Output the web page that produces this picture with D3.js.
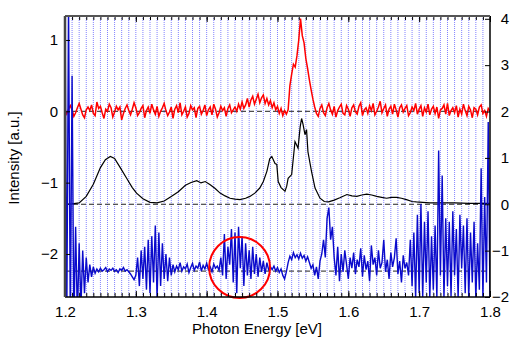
<!DOCTYPE html>
<html>
<head>
<meta charset="utf-8">
<script src="https://cdn.jsdelivr.net/npm/d3@7"></script>
<style>
  body { margin: 0; background: #fff; }
  svg { display: block; font-family: "Liberation Sans", Arial, sans-serif; }
</style>
</head>
<body>
<svg id="chart" width="510" height="338"></svg>
<script>
// energy grid step for the measured (noisy) traces
const step = 0.0025;

// red trace, left axis (offset 0)
const redValues = [
  0.01, -0.04, 0.03, 0.08, 0.02, -0.07, -0.02, 0.05, 0.11, 0.03,
  -0.05, -0.09, 0.02, 0.06, 0.01, 0.09, -0.03, -0.06, 0.13, 0.04,
  0.07, -0.02, -0.10, 0.03, 0.00, 0.10, 0.05, -0.08, -0.01, 0.07,
  0.02, 0.06, -0.12, -0.03, 0.04, 0.09, 0.01, -0.05, 0.03, 0.12,
  0.05, -0.06, -0.02, 0.04, 0.08, -0.09, 0.01, 0.06, -0.03, 0.10,
  0.02, -0.04, 0.07, -0.07, 0.00, 0.05, 0.11, 0.01, -0.06, -0.01,
  0.06, -0.10, 0.03, 0.08, -0.02, 0.12, -0.05, 0.00, 0.06, -0.08,
  -0.03, 0.08, 0.02, 0.05, -0.09, 0.04, 0.07, -0.04, 0.01, 0.09,
  -0.06, 0.02, 0.06, -0.05, 0.10, 0.03, -0.08, -0.02, 0.07, 0.01,
  0.05, -0.07, 0.04, 0.09, -0.02, 0.02,
  // bump 1.44 - 1.5125
  0.06, 0.00, 0.10, 0.03, 0.13, 0.04, 0.09, 0.18, 0.06, 0.16,
  0.21, 0.10, 0.17, 0.24, 0.12, 0.19, 0.23, 0.11, 0.18, 0.09,
  0.15, 0.05, 0.12, 0.02, 0.07, -0.03, 0.04, -0.06, 0.01, -0.04,
  // main peak 1.515 - 1.555
  0.02, 0.36, 0.52, 0.66, 0.62, 0.78, 1.00, 1.30, 1.06, 0.96,
  0.74, 0.60, 0.44, 0.30, 0.17, 0.06, -0.03,
  -0.07, 0.04, 0.09, -0.02, -0.06, 0.05, 0.11, 0.02, -0.04, 0.07,
  -0.08, 0.01, 0.06, 0.10, -0.03, -0.05, 0.08, 0.03, -0.07, 0.05,
  0.09, -0.01, -0.04, 0.07, 0.12, -0.06, 0.02, 0.05, -0.03, 0.08,
  0.01, 0.11, -0.05, 0.00, 0.06, 0.14, -0.02, 0.04, 0.09, -0.07,
  0.03, 0.07, -0.04, 0.10, 0.02, -0.08, 0.05, 0.09, -0.01, 0.04,
  0.08, -0.06, -0.02, 0.06, 0.01, 0.11, -0.04, 0.03, 0.08, -0.07,
  0.05, -0.01, 0.10, -0.05, 0.03, 0.07, -0.03, 0.06, -0.10, 0.02,
  0.04, 0.09, -0.04, 0.11, -0.06, 0.01, 0.05, -0.02, 0.08, -0.08,
  0.03, -0.04, 0.10, 0.01, -0.06, 0.07, 0.02, -0.09, 0.05, 0.03,
  -0.05, 0.06, 0.09, -0.03, 0.01, -0.07, 0.04, 0.00
];

// blue trace, left axis
const blueValues = [
  1.5, -3.0, 1.5, -3.0, 0.5, -3.0, -1.62, -2.9, -1.85, -2.75,
  -1.95, -2.55, -2.05, -2.40, -2.15, -2.32, -2.18, -2.27,
  -2.21, -2.25, -2.20, -2.24, -2.22, -2.19, -2.25, -2.21, -2.23, -2.20,
  -2.24, -2.22, -2.26, -2.21, -2.23, -2.19, -2.24, -2.22, -2.25, -2.28,
  -2.32, -2.36, -2.30,
  -2.05, -2.45, -1.95, -2.35, -1.90, -2.50, -1.80, -2.55, -1.75, -2.40,
  -1.60, -2.62, -1.70, -2.45, -1.85, -2.35, -2.00, -2.38, -2.05, -2.30,
  -2.15, -2.25, -2.17, -2.22, -2.12, -2.24, -2.18, -2.21, -2.14, -2.26,
  -2.19, -2.13, -2.23, -2.17, -2.20, -2.11, -2.24, -2.16, -2.21, -2.13,
  -2.22, -2.18, -2.25, -2.14, -2.20, -2.17, -2.23,
  -2.05, -2.30, -1.72, -2.35, -1.90, -2.15, -1.65, -2.40, -1.70, -2.55,
  -1.62, -2.20, -1.75, -2.45, -1.85, -2.30, -1.95, -2.35, -1.90, -2.28,
  -2.00, -2.32, -2.05, -2.25, -2.10, -2.28, -2.12, -2.22, -2.18,
  -2.22, -2.17, -2.24, -2.19, -2.26, -2.21, -2.30, -2.35, -2.25, -2.12,
  -2.03, -2.08, -1.98, -2.05, -2.01, -2.07, -1.99, -2.06, -2.02, -2.10,
  -2.04, -2.12,
  -2.20, -2.15, -2.30, -2.18, -2.35, -2.10,
  -2.00, -1.80, -2.05, -1.50, -1.35, -1.80, -1.62, -2.05,
  -2.30, -1.90, -2.38, -2.00, -2.25, -1.95, -2.15, -2.35, -2.05, -2.20,
  -1.98, -2.28, -2.08, -2.18, -1.92, -2.32, -2.02, -2.22, -2.10, -2.38,
  -1.88, -2.15, -2.05, -2.30, -1.95, -2.20, -2.12, -1.80, -2.25, -2.08,
  -2.35, -1.98, -2.18, -2.05, -1.78, -2.28, -2.10, -2.40, -2.02, -2.20,
  -2.12, -2.30,
  -1.80, -2.45, -1.70, -2.62, -1.45, -2.55, -1.30, -2.62, -1.55, -2.40,
  -1.40, -2.62, -1.75, -2.50, -1.60, -2.62, -0.55, -2.30, -0.90, -2.62,
  -1.50, -2.45, -1.55, -2.60, -1.40, -2.30, -1.65, -2.62, -1.45, -2.20,
  -1.60, -2.55, -1.50, -2.62, -1.70, -2.40, -1.55, -2.62, -1.85, -2.50,
  -0.80, -2.62, -1.20, -2.40, -0.15, -2.62
];

// black trace, right axis
const blackEnergy = [
  1.200, 1.210, 1.220, 1.230, 1.240, 1.250, 1.257, 1.264, 1.270, 1.278,
  1.287, 1.295, 1.301, 1.310, 1.320, 1.330, 1.340, 1.350, 1.360, 1.370,
  1.378, 1.386, 1.392, 1.398, 1.405, 1.412, 1.419, 1.426, 1.433, 1.440,
  1.447, 1.455, 1.461, 1.468, 1.475, 1.480, 1.485, 1.489, 1.492, 1.4965,
  1.499, 1.501, 1.505, 1.5106, 1.513, 1.515, 1.520, 1.5247, 1.527, 1.529,
  1.532, 1.534, 1.536, 1.5388, 1.541, 1.543, 1.548, 1.553, 1.560, 1.566,
  1.572, 1.580, 1.588, 1.598, 1.605, 1.612, 1.619, 1.626, 1.633, 1.640,
  1.647, 1.654, 1.661, 1.668, 1.675, 1.682, 1.690, 1.696, 1.705, 1.715,
  1.730, 1.750, 1.770, 1.790, 1.800
];
const blackValues = [
  0.00, 0.01, 0.03, 0.17, 0.43, 0.79, 0.96, 1.03, 0.99, 0.79,
  0.56, 0.36, 0.24, 0.12, 0.04, 0.03, 0.07, 0.17, 0.27, 0.41,
  0.47, 0.51, 0.46, 0.49, 0.42, 0.34, 0.24, 0.18, 0.13, 0.11,
  0.10, 0.13, 0.17, 0.24, 0.35, 0.49, 0.71, 0.98, 1.03, 0.88,
  0.86, 0.49, 0.36, 0.28, 0.39, 0.56, 0.64, 1.35, 1.28, 1.21,
  1.67, 1.85, 1.73, 1.50, 1.61, 1.13, 0.71, 0.35, 0.13, 0.06,
  0.05, 0.09, 0.14, 0.21, 0.18, 0.17, 0.20, 0.22, 0.20, 0.17,
  0.15, 0.13, 0.15, 0.15, 0.13, 0.10, 0.06, 0.05, 0.04, 0.03,
  0.03, 0.03, 0.02, 0.02, 0.02
];

// dashed baselines: [axis, value]
const baselines = [["left", 0], ["right", 0], ["left", -2.24]];
// circled region [energy, left value, radius in eV]
const circleMark = [1.4465, -2.19, 0.043];

const xTicks = [1.2, 1.3, 1.4, 1.5, 1.6, 1.7, 1.8];
const yLeftTicks = [-2, -1, 0, 1];
const yRightTicks = [-2, -1, 0, 1, 2, 3, 4];

const svg = d3.select("#chart");
const pLeft = 65, pRight = 490, pTop = 16, pBottom = 297;
const fontSize = 15;

const x = d3.scaleLinear().domain([1.2, 1.8]).range([pLeft, pRight]);
const yL = d3.scaleLinear().domain([-2.603, 1.336]).range([pBottom, pTop]);
const yR = d3.scaleLinear().domain([-2, 4.06]).range([pBottom, pTop]);

svg.append("defs").append("clipPath").attr("id", "plot-clip")
  .append("rect")
  .attr("x", pLeft).attr("y", pTop)
  .attr("width", pRight - pLeft).attr("height", pBottom - pTop);

// dotted blue grid every 0.01 eV
const minor = d3.range(121, 180).map(d => d / 100);
svg.append("g")
  .selectAll("line")
  .data(minor)
  .join("line")
  .attr("x1", d => x(d)).attr("x2", d => x(d))
  .attr("y1", pTop).attr("y2", pBottom)
  .attr("stroke", "#5a5aff")
  .attr("stroke-width", 1)
  .attr("stroke-dasharray", "1,1")
  .attr("opacity", 0.75);

const plot = svg.append("g").attr("clip-path", "url(#plot-clip)");

// baselines
plot.selectAll(".baseline")
  .data(baselines)
  .join("line")
  .attr("class", "baseline")
  .attr("x1", pLeft).attr("x2", pRight)
  .attr("y1", d => (d[0] === "left" ? yL : yR)(d[1]))
  .attr("y2", d => (d[0] === "left" ? yL : yR)(d[1]))
  .attr("stroke", "#222")
  .attr("stroke-width", 1)
  .attr("stroke-dasharray", "5,3");

const energyAt = i => 1.2 + i * step;

const redLine = d3.line().x((d, i) => x(energyAt(i))).y(d => yL(d));
plot.append("path")
  .datum(redValues)
  .attr("d", redLine)
  .attr("fill", "none")
  .attr("stroke", "#ff0000")
  .attr("stroke-width", 1.5);

const blackLine = d3.line().x((d, i) => x(blackEnergy[i])).y(d => yR(d));
plot.append("path")
  .datum(blackValues)
  .attr("d", blackLine)
  .attr("fill", "none")
  .attr("stroke", "#000")
  .attr("stroke-width", 1.2);

const blueLine = d3.line().x((d, i) => x(energyAt(i))).y(d => yL(d));
plot.append("path")
  .datum(blueValues)
  .attr("d", blueLine)
  .attr("fill", "none")
  .attr("stroke", "#0a0acc")
  .attr("stroke-width", 1.4);

// annotation circle
const rPx = x(circleMark[0] + circleMark[2]) - x(circleMark[0]);
svg.append("circle")
  .attr("cx", x(circleMark[0]))
  .attr("cy", yL(circleMark[1]))
  .attr("r", rPx)
  .attr("fill", "none")
  .attr("stroke", "#ff0000")
  .attr("stroke-width", 2);

// axes
const tickFont = g => g.selectAll("text")
  .attr("font-size", fontSize)
  .attr("font-family", "Liberation Sans, Arial, sans-serif")
  .attr("fill", "#000");

svg.append("g")
  .attr("transform", `translate(0,${pBottom})`)
  .call(d3.axisBottom(x).tickValues(minor).tickSizeInner(-4).tickSizeOuter(0).tickFormat(""))
  .call(g => g.select(".domain").remove());
svg.append("g")
  .attr("transform", `translate(0,${pTop})`)
  .call(d3.axisTop(x).tickValues(minor).tickSizeInner(-4).tickSizeOuter(0).tickFormat(""))
  .call(g => g.select(".domain").remove());

svg.append("g")
  .attr("transform", `translate(0,${pBottom})`)
  .call(d3.axisBottom(x).tickValues(xTicks).tickSizeInner(-6).tickSizeOuter(0)
    .tickPadding(9).tickFormat(d3.format(".1f")))
  .call(g => g.select(".domain").remove())
  .call(tickFont);
svg.append("g")
  .attr("transform", `translate(0,${pTop})`)
  .call(d3.axisTop(x).tickValues(xTicks).tickSizeInner(-6).tickSizeOuter(0).tickFormat(""))
  .call(g => g.select(".domain").remove());

svg.append("g")
  .attr("transform", `translate(${pLeft},0)`)
  .call(d3.axisLeft(yL).tickValues(yLeftTicks).tickSizeInner(-5).tickSizeOuter(0)
    .tickPadding(7).tickFormat(d3.format("d")))
  .call(g => g.select(".domain").remove())
  .call(tickFont);

svg.append("g")
  .attr("transform", `translate(${pRight},0)`)
  .call(d3.axisRight(yR).tickValues(yRightTicks).tickSizeInner(-5).tickSizeOuter(0)
    .tickPadding(6).tickFormat(d3.format("d")))
  .call(g => g.select(".domain").remove())
  .call(tickFont)
  .call(g => g.selectAll("text").attr("text-anchor", "end").attr("x", 509 - pRight));

// frame
svg.append("line").attr("x1", pLeft).attr("x2", pRight).attr("y1", pBottom).attr("y2", pBottom)
  .attr("stroke", "#000").attr("stroke-width", 1.5);
svg.append("line").attr("x1", pRight).attr("x2", pRight).attr("y1", pTop).attr("y2", pBottom)
  .attr("stroke", "#000").attr("stroke-width", 1.5);
svg.append("line").attr("x1", pLeft).attr("x2", pRight).attr("y1", pTop).attr("y2", pTop)
  .attr("stroke", "#555").attr("stroke-width", 2);
svg.append("line").attr("x1", pLeft).attr("x2", pLeft).attr("y1", pTop).attr("y2", pBottom)
  .attr("stroke", "#444").attr("stroke-width", 2.5);

// titles
svg.append("text")
  .attr("x", 257).attr("y", 334)
  .attr("text-anchor", "middle")
  .attr("font-size", fontSize)
  .text("Photon Energy [eV]");
svg.append("text")
  .attr("transform", "translate(19,158) rotate(-90)")
  .attr("text-anchor", "middle")
  .attr("font-size", fontSize)
  .text("Intensity [a.u.]");
</script>
</body>
</html>
